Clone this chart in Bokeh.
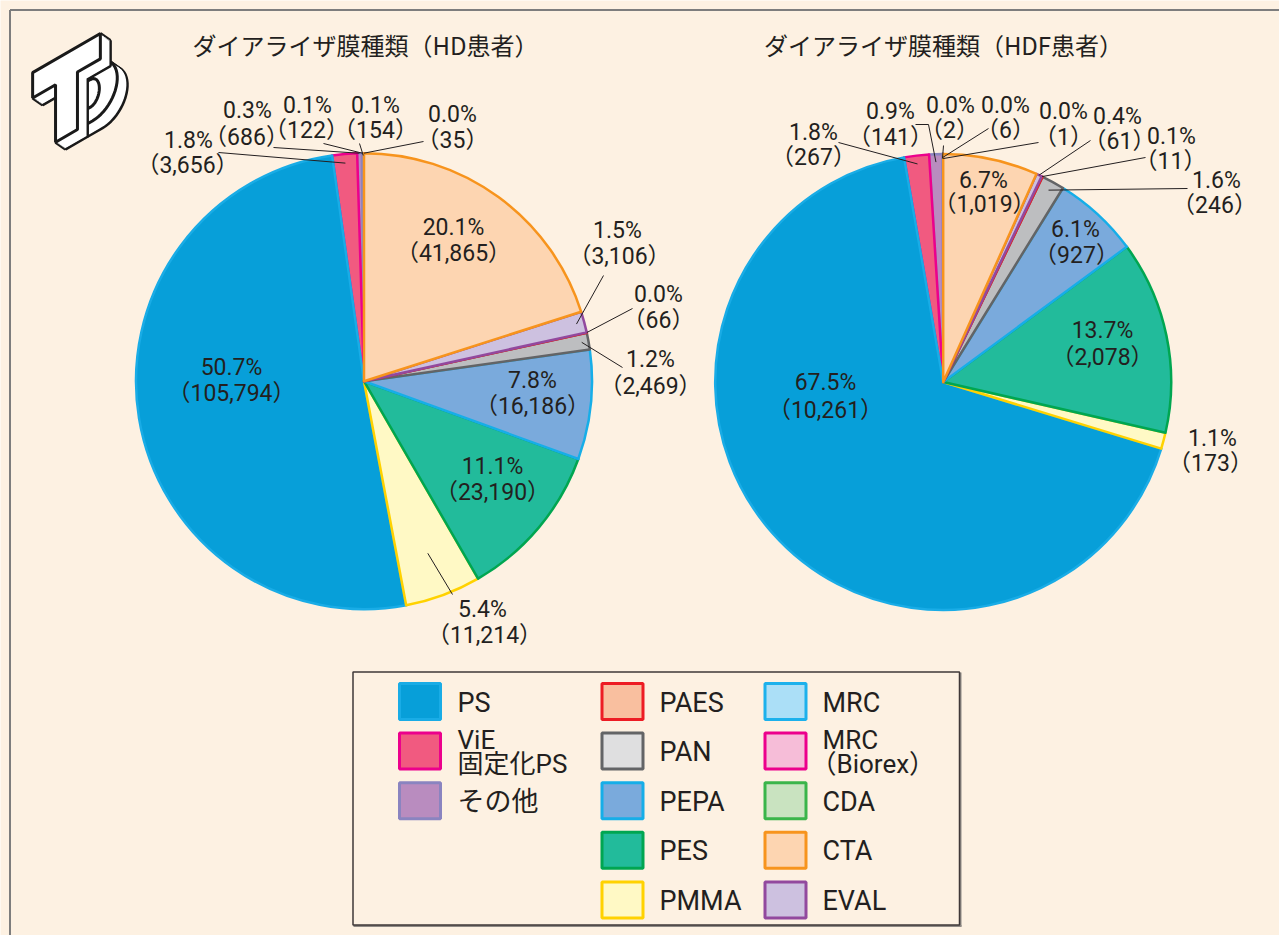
import numpy as np
from bokeh.plotting import figure
from bokeh.models import Range1d, ColumnDataSource
from bokeh.core.properties import value
from bokeh.embed import file_html
from bokeh.resources import INLINE

# ---------------- data ----------------
categories = ["CTA", "EVAL", "PAES", "PAN", "PEPA", "PES", "PMMA", "PS",
              "ViE固定化PS", "その他", "MRC", "MRC（Biorex）", "CDA"]
hd_counts = [41865, 3106, 66, 2469, 16186, 23190, 11214, 105794, 3656, 686, 122, 154, 35]
hd_pct = ["20.1%", "1.5%", "0.0%", "1.2%", "7.8%", "11.1%", "5.4%", "50.7%",
          "1.8%", "0.3%", "0.1%", "0.1%", "0.0%"]
hdf_counts = [1019, 61, 11, 246, 927, 2078, 173, 10261, 267, 141, 2, 6, 1]
hdf_pct = ["6.7%", "0.4%", "0.1%", "1.6%", "6.1%", "13.7%", "1.1%", "67.5%",
           "1.8%", "0.9%", "0.0%", "0.0%", "0.0%"]
titles = ["ダイアライザ膜種類（HD患者）", "ダイアライザ膜種類（HDF患者）"]
legend_cols = [
    [("PS", "PS"), ("ViE固定化PS", "ViE\n固定化PS"), ("その他", "その他")],
    [("PAES", "PAES"), ("PAN", "PAN"), ("PEPA", "PEPA"), ("PES", "PES"), ("PMMA", "PMMA")],
    [("MRC", "MRC"), ("MRC（Biorex）", "MRC\n（Biorex）"), ("CDA", "CDA"), ("CTA", "CTA"), ("EVAL", "EVAL")],
]

# ---------------- styles ----------------
FILL = {"PS": "#079fd9", "ViE固定化PS": "#f15a80", "その他": "#b98cbf", "PAES": "#f9bf9f",
        "PAN": "#bdbec0", "PEPA": "#7aaadc", "PES": "#22bb9b", "PMMA": "#fff9c5",
        "MRC": "#abdff7", "MRC（Biorex）": "#f6bdd8", "CDA": "#c9e3c0", "CTA": "#fdd5b1",
        "EVAL": "#cdc1e0"}
LEG_FILL = dict(FILL, PAN="#dfdfe0")
BORDER = {"PS": "#19ace6", "ViE固定化PS": "#ec008c", "その他": "#8a84c0", "PAES": "#ed1c24",
          "PAN": "#636466", "PEPA": "#16aee8", "PES": "#00a651", "PMMA": "#ffd200",
          "MRC": "#1cb1ec", "MRC（Biorex）": "#ec008c", "CDA": "#3ab54a", "CTA": "#f7941d",
          "EVAL": "#92499e"}
BG = "#fdf1e2"
INK = "#231f20"
LATIN = value("Roboto, Noto Sans CJK JP")
CJK = value("Noto Sans CJK JP")

W, H = 1279, 935


def sx(x):
    return x


def sy(y):
    return H - y


# label layout (screen px): category -> (x1, y1, x2, y2)
HD_LAB = {"CTA": (453, 227, 453, 253), "EVAL": (617, 230, 619, 256), "PAES": (658, 294, 658, 320),
          "PAN": (650, 359, 650, 386), "PEPA": (532, 380, 532, 406), "PES": (492, 466, 492, 492),
          "PMMA": (482, 609, 484, 635), "PS": (231, 367, 231, 393), "ViE固定化PS": (188, 140, 187, 165),
          "その他": (247, 110, 246, 137), "MRC": (307, 105, 306, 130), "MRC（Biorex）": (375, 105, 375, 130),
          "CDA": (452, 114, 452, 140)}
HDF_LAB = {"CTA": (983, 180, 984, 204), "EVAL": (1117, 116, 1119, 141), "PAES": (1171, 136, 1170, 161),
           "PAN": (1216, 180, 1214, 205), "PEPA": (1075, 229, 1076, 255), "PES": (1102, 330, 1102, 357),
           "PMMA": (1212, 438, 1210, 463), "PS": (825, 382, 825, 410), "ViE固定化PS": (813, 132, 813, 157),
           "その他": (890, 111, 890, 137), "MRC": (950, 105, 949, 130), "MRC（Biorex）": (1005, 105, 1005, 130),
           "CDA": (1063, 111, 1063, 137)}
# leader lines: category -> (outer screen points, radius factor of the inner end)
HD_LEAD = {"ViE固定化PS": ([(218, 152)], 0.96), "その他": ([(273, 147)], 1.0), "MRC": ([(323, 143)], 1.0),
           "MRC（Biorex）": ([(359, 143)], 0.99), "CDA": ([(423, 141)], 1.0), "EVAL": ([(603, 275)], 0.965),
           "PAES": ([(632, 308)], 1.0), "PAN": ([(622, 367)], 0.97), "PMMA": ([(452, 594)], 0.805)}
HDF_LEAD = {"ViE固定化PS": ([(838, 142)], 0.963), "その他": ([(915, 124), (928, 124)], 0.965),
            "MRC": ([(943, 145)], 0.98), "MRC（Biorex）": ([(988, 128)], 0.985), "CDA": ([(1038, 142)], 0.98),
            "EVAL": ([(1090, 140)], 1.0), "PAES": ([(1145, 157)], 1.0), "PAN": ([(1187, 188)], 0.96)}

p = figure(width=W, height=H, x_range=Range1d(0, W), y_range=Range1d(0, H),
           output_backend="svg", toolbar_location=None, min_border=0,
           x_axis_location=None, y_axis_location=None,
           background_fill_color=BG, border_fill_color=BG, outline_line_color=None)
p.grid.visible = False

# panel border (top and left)
p.segment(x0=[sx(9.5), sx(9.5)], y0=[sy(9.5), sy(9.5)], x1=[W, sx(9.5)], y1=[sy(9.5), 0],
          line_color="#7d7d7d", line_width=2)


def draw_pie(counts, pcts, cx, cy, r, labs, leads, title, tx):
    c = np.array(counts, float)
    frac = c / c.sum()
    cum = np.concatenate([[0.0], np.cumsum(frac)])
    start = np.pi / 2 - 2 * np.pi * cum[:-1]
    end = np.pi / 2 - 2 * np.pi * cum[1:]
    mid = (start + end) / 2
    order = list(range(len(categories)))[::-1]
    src = ColumnDataSource(dict(
        start=start[order], end=end[order],
        fill=[FILL[categories[i]] for i in order],
        line=[BORDER[categories[i]] for i in order]))
    p.wedge(x=sx(cx), y=sy(cy), radius=r, start_angle="start", end_angle="end",
            direction="clock", fill_color="fill", line_color="line", line_width=2.5,
            line_join="round", source=src)
    # leaders
    for i, cat in enumerate(categories):
        if cat in leads:
            pts, rf = leads[cat]
            xs = [sx(x) for x, y in pts] + [sx(cx) + rf * r * np.cos(mid[i])]
            ys = [sy(y) for x, y in pts] + [sy(cy) + rf * r * np.sin(mid[i])]
            p.line(xs, ys, line_color=INK, line_width=1)
    # labels
    x1, y1, x2, y2, t1, t2 = [], [], [], [], [], []
    for i, cat in enumerate(categories):
        a, b, cc, d = labs[cat]
        x1.append(sx(a)); y1.append(sy(b)); t1.append(pcts[i])
        x2.append(sx(cc)); y2.append(sy(d)); t2.append("（{:,}）".format(counts[i]))
    p.text(x=x1, y=y1, text=t1, text_font=LATIN, text_font_size="23px", text_color=INK,
           text_align="center", text_baseline="middle")
    p.text(x=x2, y=y2, text=t2, text_font=LATIN, text_font_size="23px", text_color=INK,
           text_align="center", text_baseline="middle")
    p.text(x=[sx(tx)], y=[sy(44)], text=[title], text_font=CJK, text_font_size="24px",
           text_color=INK, text_align="center", text_baseline="middle")


draw_pie(hd_counts, hd_pct, 363.5, 380.7, 228, HD_LAB, HD_LEAD, titles[0], 365)
draw_pie(hdf_counts, hdf_pct, 942.7, 381.5, 228, HDF_LAB, HDF_LEAD, titles[1], 943)

# ---------------- legend ----------------
p.segment(x0=[sx(353), sx(960)], y0=[sy(925.5), sy(672)], x1=[sx(961), sx(960)], y1=[sy(925.5), sy(926)],
          line_color="#8f8a86", line_width=2)
p.quad(left=[sx(352.5)], right=[sx(959)], top=[sy(671.5)], bottom=[sy(924.5)],
       fill_color=None, line_color="#3f3838", line_width=1.5)
col_sq = [419.5, 622, 785]
col_tx = [457, 659, 822]
for ci, col in enumerate(legend_cols):
    for ri, (key, lab) in enumerate(col):
        rc = 701 + 49.6 * ri
        p.rect(x=[sx(col_sq[ci])], y=[sy(rc)], width=41, height=36,
               fill_color=LEG_FILL[key], line_color=BORDER[key], line_width=3)
        lines = lab.split("\n")
        if len(lines) == 1:
            p.text(x=[sx(col_tx[ci])], y=[sy(rc + 1)], text=[lab], text_font=LATIN,
                   text_font_size="27px", text_color=INK, text_baseline="middle")
        else:
            p.text(x=[sx(col_tx[ci])], y=[sy(rc - 11)], text=[lines[0]], text_font=LATIN,
                   text_font_size="26px", text_color=INK, text_baseline="middle")
            x2 = col_tx[ci] - (12 if lines[1].startswith("（") else 0)
            p.text(x=[sx(x2)], y=[sy(rc + 13)], text=[lines[1]], text_font=LATIN,
                   text_font_size="26px", text_color=INK, text_baseline="middle")

# ---------------- logo (decorative) ----------------
c30, s30 = np.cos(np.pi / 6), np.sin(np.pi / 6)


def iso(pts, ox, oy, s=1.15):
    return ([sx(ox + s * x * c30) for x, y in pts], [sy(oy + s * (y - x * s30)) for x, y in pts])


def extrude(pts, ox, oy, d=(10, 7)):
    steps = np.linspace(1, 0, 12)
    xs, ys = iso(pts, ox + d[0], oy + d[1])
    p.patch(xs, ys, fill_color="white", line_color="#1a1a1a", line_width=3)
    fx, fy = iso(pts, ox, oy)
    p.segment(x0=fx, y0=fy, x1=xs, y1=ys, line_color="#1a1a1a", line_width=3)
    for t in steps[1:-1]:
        xs, ys = iso(pts, ox + t * d[0], oy + t * d[1])
        p.patch(xs, ys, fill_color="white", line_color=None)
    p.patch(fx, fy, fill_color="white", line_color="#1a1a1a", line_width=3)


T_shape = [(-34, -36), (34, -36), (34, -14), (11, -14), (11, 36), (-11, 36), (-11, -14), (-34, -14)]
a = np.linspace(-np.pi / 2, np.pi / 2, 28)
D_shape = [(11, -14)] + [(26 + 25 * np.cos(t), 11 + 25 * np.sin(t)) for t in a] + [(11, 36)]
D_hole = [(19, -1)] + [(24 + 9 * np.cos(t), 11 + 12 * np.sin(t)) for t in a] + [(19, 23)]
LX, LY = 66, 94
extrude(D_shape, LX, LY)
hx, hy = iso(D_hole, LX, LY)
p.patch(hx, hy, fill_color="white", line_color="#1a1a1a", line_width=3)
extrude(T_shape, LX, LY)

open("out.html", "w").write(file_html(p, INLINE))
